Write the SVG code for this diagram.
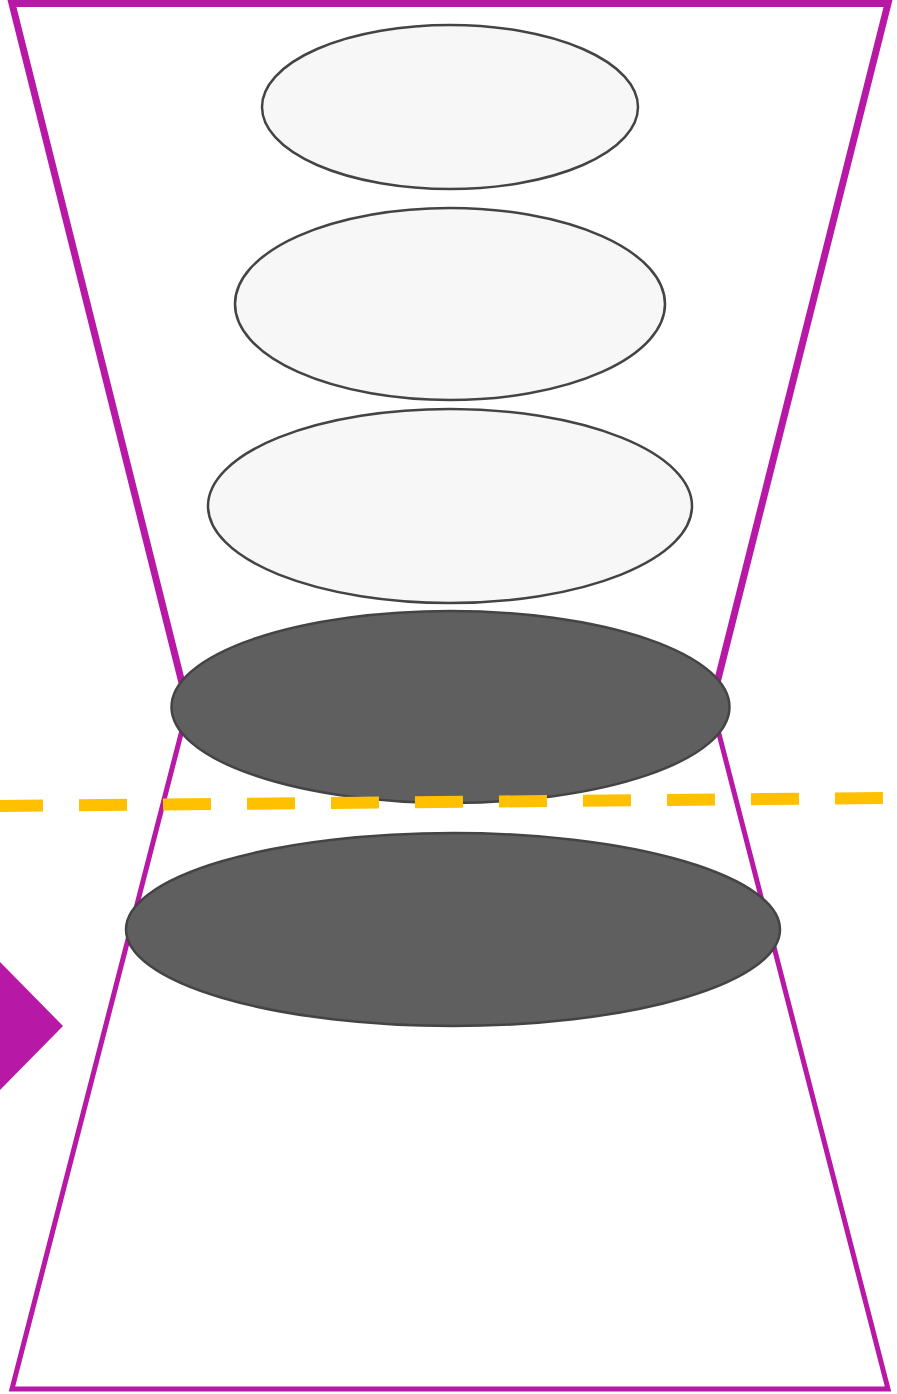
<svg xmlns="http://www.w3.org/2000/svg" width="897" height="1394" viewBox="0 0 897 1394">
  <style>
    .frame { fill: none; stroke: #b718a6; stroke-linejoin: miter; }
    .light { fill: #f7f7f7; stroke: #444444; stroke-width: 2.5; }
    .dark { fill: #5f5f5f; stroke: #444444; stroke-width: 2.5; }
    .dash { fill: none; stroke: #ffc000; stroke-width: 12; stroke-dasharray: 48 36; }
  </style>
  <rect width="897" height="1394" fill="#ffffff"/>
  <g id="upper-funnel">
    <polyline class="frame" stroke-width="7" points="182,683 12,3.5 888,3.5 717,683"/>
  </g>
  <g id="lower-funnel">
    <polyline class="frame" stroke-width="5" points="182,730 12,1389 888,1389 718,730"/>
  </g>
  <g id="layer-1"><ellipse class="light" cx="450" cy="107" rx="188" ry="82"/></g>
  <g id="layer-2"><ellipse class="light" cx="450" cy="304" rx="215" ry="96"/></g>
  <g id="layer-3"><ellipse class="light" cx="450" cy="506" rx="242" ry="97"/></g>
  <g id="layer-4"><ellipse class="dark" cx="450.5" cy="707" rx="279" ry="96"/></g>
  <g id="layer-5"><ellipse class="dark" cx="453" cy="929.5" rx="327" ry="96.5"/></g>
  <g id="connectors">
    <line class="dash" x1="-5" y1="806" x2="883" y2="798"/>
  </g>
  <g id="pointer">
    <polygon fill="#b718a6" points="0,962 63,1026 0,1090"/>
  </g>
</svg>
